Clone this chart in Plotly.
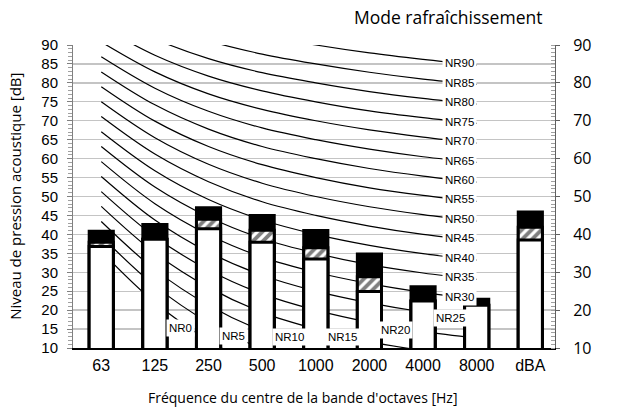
import plotly.graph_objects as go

# ---- data ----
categories = ["63", "125", "250", "500", "1000", "2000", "4000", "8000", "dBA"]
# stacked bar levels (dB): white part top, hatched part top, black part top
level_white = [36.8, 38.7, 41.5, 37.9, 33.5, 24.9, 22.4, 21.3, 38.5]
level_hatch = [37.9, 38.7, 44.0, 41.1, 36.5, 28.8, 22.4, 21.3, 41.9]
level_total = [40.8, 42.6, 47.0, 45.0, 41.0, 34.8, 26.2, 22.9, 45.9]

# NR curves (dB) at 63 ... 8000 Hz
nr_freqs = ["63", "125", "250", "500", "1000", "2000", "4000", "8000"]
nr_names = ["NR0", "NR5", "NR10", "NR15", "NR20", "NR25", "NR30", "NR35", "NR40",
            "NR45", "NR50", "NR55", "NR60", "NR65", "NR70", "NR75", "NR80", "NR85", "NR90"]
nr_values = [
    [35.5, 22.0, 12.0, 4.8, 0.0, -3.5, -6.1, -8.0],
    [39.5, 26.4, 16.7, 9.7, 5.0, 1.6, -1.0, -2.9],
    [43.4, 30.7, 21.3, 14.5, 10.0, 6.7, 4.2, 2.3],
    [47.4, 35.1, 26.0, 19.4, 15.0, 11.7, 9.3, 7.5],
    [51.3, 39.4, 30.6, 24.3, 20.0, 16.8, 14.4, 12.6],
    [55.3, 43.8, 35.3, 29.2, 25.0, 21.9, 19.5, 17.8],
    [59.2, 48.1, 39.9, 34.0, 30.0, 27.0, 24.7, 22.9],
    [63.2, 52.5, 44.6, 38.9, 35.0, 32.0, 29.8, 28.1],
    [67.1, 56.8, 49.2, 43.8, 40.0, 37.1, 34.9, 33.2],
    [71.1, 61.2, 53.9, 48.6, 45.0, 42.2, 40.0, 38.4],
    [75.0, 65.5, 58.5, 53.5, 50.0, 47.3, 45.2, 43.5],
    [79.0, 69.9, 63.2, 58.4, 55.0, 52.3, 50.3, 48.7],
    [82.9, 74.2, 67.8, 63.2, 60.0, 57.4, 55.4, 53.8],
    [86.9, 78.6, 72.5, 68.1, 65.0, 62.5, 60.5, 59.0],
    [90.8, 82.9, 77.1, 73.0, 70.0, 67.6, 65.7, 64.1],
    [94.8, 87.3, 81.8, 77.9, 75.0, 72.6, 70.8, 69.3],
    [98.7, 91.6, 86.4, 82.7, 80.0, 77.7, 75.9, 74.4],
    [102.7, 96.0, 91.1, 87.6, 85.0, 82.8, 81.0, 79.6],
    [106.6, 100.3, 95.7, 92.5, 90.0, 87.9, 86.2, 84.7],
]
y_ticks = [10, 15, 20, 25, 30, 35, 40, 45, 50, 55, 60, 65, 70, 75, 80, 85, 90]
y_ticks_right = [10, 20, 30, 40, 50, 60, 70, 80, 90]

title_text = "Mode rafraîchissement"
x_title = "Fréquence du centre de la bande d'octaves [Hz]"
y_title = "Niveau de pression acoustique [dB]"

# ---- figure ----
xpos = list(range(len(categories)))
nr_x = list(range(len(nr_freqs)))
XR = [-0.527, 8.46]
YR = [10, 90]

fig = go.Figure()

for name, vals in zip(nr_names, nr_values):
    fig.add_trace(go.Scatter(x=nr_x, y=vals, mode="lines", name=name,
                             line=dict(color="black", width=1.2, shape="spline"),
                             showlegend=False, hoverinfo="skip",
                             xaxis="x", yaxis="y"))

bar_w = 0.45
fig.add_trace(go.Bar(x=xpos, y=level_total, width=bar_w, xaxis="x2", yaxis="y2",
                     marker=dict(color="black", line=dict(color="black", width=3)),
                     showlegend=False, hoverinfo="skip"))
fig.add_trace(go.Bar(x=xpos, y=level_hatch, width=bar_w, xaxis="x2", yaxis="y2",
                     marker=dict(color="white", line=dict(color="black", width=3),
                                 pattern=dict(shape="/", bgcolor="white", fgcolor="black",
                                              size=7, solidity=0.55)),
                     showlegend=False, hoverinfo="skip"))
fig.add_trace(go.Bar(x=xpos, y=level_white, width=bar_w, xaxis="x2", yaxis="y2",
                     marker=dict(color="white", line=dict(color="black", width=3)),
                     showlegend=False, hoverinfo="skip"))

annotations = []
lab_font = dict(family="Liberation Sans, Arial", size=11.5, color="black")
# upper labels near 4000-8000 Hz
lab_k = 6.67
frac = lab_k - 6
for name, vals in zip(nr_names, nr_values):
    lvl = int(name[2:])
    if lvl >= 30:
        yv = vals[6] + frac * (vals[7] - vals[6])
        annotations.append(dict(x=lab_k, y=yv, xref="x", yref="y", text=name,
                                showarrow=False, bgcolor="white", borderpad=2, font=lab_font))
# lower labels where curves leave the chart
low_pos = {"NR0": (1.47, 15.4), "NR5": (2.46, 13.1), "NR10": (3.51, 12.8),
           "NR15": (4.50, 12.8), "NR20": (5.49, 14.7), "NR25": (6.52, 17.9)}
for name, (xk, yv) in low_pos.items():
    annotations.append(dict(x=xk, y=yv, xref="x", yref="y", text=name,
                            showarrow=False, bgcolor="white", borderpad=2, font=lab_font))

annotations.append(dict(x=0.977, y=1.091, xref="paper", yref="paper", text=title_text,
                        showarrow=False, xanchor="right", yanchor="middle",
                        font=dict(family="Open Sans", size=17.5, color="black")))
annotations.append(dict(x=0.4775, y=-0.165, xref="paper", yref="paper", text=x_title,
                        showarrow=False, xanchor="center", yanchor="middle",
                        font=dict(family="Open Sans", size=14, color="black")))
annotations.append(dict(x=-0.1217, y=0.50, xref="paper", yref="paper", text=y_title,
                        showarrow=False, xanchor="center", yanchor="middle", textangle=-90,
                        font=dict(family="Open Sans", size=15, color="black")))

fig.update_layout(
    width=619, height=409,
    margin=dict(l=73, r=64, t=45, b=61),
    paper_bgcolor="white", plot_bgcolor="white",
    barmode="overlay", bargap=0, hovermode=False,
    annotations=annotations,
    xaxis=dict(range=XR, tickvals=xpos, ticktext=categories, showgrid=False,
               zeroline=False, showline=True, linecolor="black", linewidth=1.5,
               ticks="", ticklabelstandoff=2,
               tickfont=dict(family="Liberation Sans, Arial", size=16, color="black")),
    yaxis=dict(range=YR, tickvals=y_ticks, showgrid=True, gridcolor="#c4c4c4", gridwidth=1.3,
               zeroline=False, showline=True, linecolor="#808080", linewidth=1,
               ticks="outside", ticklen=5, tickcolor="#808080", ticklabelstandoff=6,
               minor=dict(dtick=1, ticks="outside", ticklen=4, tickcolor="#a0a0a0", showgrid=False),
               tickfont=dict(family="Liberation Sans, Arial", size=15, color="black")),
    xaxis2=dict(range=XR, overlaying="x", visible=False),
    yaxis2=dict(range=YR, overlaying="y", side="right", tickvals=y_ticks_right,
                showgrid=False, zeroline=False, showline=True, linecolor="#606060", linewidth=1,
                ticks="outside", ticklen=4, tickcolor="#606060", ticklabelstandoff=10,
                minor=dict(dtick=1, ticks="inside", ticklen=4, tickcolor="#a0a0a0"),
                tickfont=dict(family="Open Sans", size=16, color="black")),
)

# remove the default page margin so the figure sits at the window's top-left corner
fig.write_html("out.html", config={"displayModeBar": False, "staticPlot": True},
               post_script="document.body.style.margin='0';")
